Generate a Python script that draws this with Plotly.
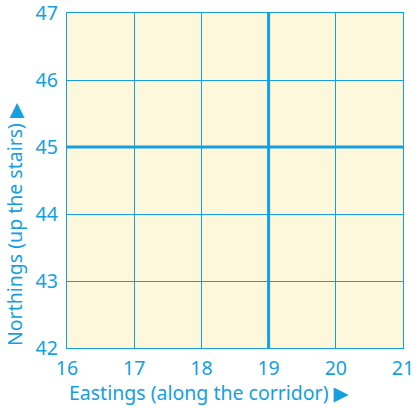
import plotly.graph_objects as go

# Data
x_ticks = [16, 17, 18, 19, 20, 21]
y_ticks = [42, 43, 44, 45, 46, 47]
origin_x = [19]
origin_y = [45]
x_title = "Eastings (along the corridor) ▶"
y_title = "Northings (up the stairs) ▶"

BLUE = "#14a0df"
BG = "#fdf8dc"
FONT = "Noto Sans, DejaVu Sans, sans-serif"

fig = go.Figure()
fig.add_trace(go.Scatter(x=[], y=[], mode="markers", showlegend=False))

axis_common = dict(
    showgrid=True, gridcolor=BLUE, gridwidth=1.2,
    showline=True, linecolor=BLUE, linewidth=1.4, mirror=True,
    zeroline=False, ticks="", tickmode="array", automargin=False,
    ticklabeloverflow="allow",
    tickfont=dict(family=FONT, size=19.5, color=BLUE),
    fixedrange=True,
)
fig.update_xaxes(range=[x_ticks[0], x_ticks[-1]], tickvals=x_ticks,
                 ticktext=[str(v) for v in x_ticks], ticklabelstandoff=2, **axis_common)
fig.update_yaxes(range=[y_ticks[0], y_ticks[-1]], tickvals=y_ticks,
                 ticktext=[str(v) for v in y_ticks], ticklabelstandoff=4, **axis_common)

for xv in origin_x:
    fig.add_shape(type="line", xref="x", yref="paper", x0=xv, x1=xv, y0=0, y1=1,
                  line=dict(color=BLUE, width=3))
for yv in origin_y:
    fig.add_shape(type="line", xref="paper", yref="y", x0=0, x1=1, y0=yv, y1=yv,
                  line=dict(color=BLUE, width=3))

fig.add_annotation(text=x_title, xref="paper", yref="paper", x=0, y=0,
                   xanchor="left", yanchor="top", yshift=-29, showarrow=False,
                   font=dict(family=FONT, size=19.5, color=BLUE))
fig.add_annotation(text=y_title, xref="paper", yref="paper", x=0, y=0,
                   textangle=-90, xanchor="right", yanchor="bottom", xshift=-37,
                   showarrow=False, font=dict(family=FONT, size=19.5, color=BLUE))

fig.update_layout(
    width=419, height=408,
    margin=dict(l=67, r=16, t=13, b=60),
    paper_bgcolor="white", plot_bgcolor=BG,
    showlegend=False,
)

fig.write_html("out.html", config={"displayModeBar": False},
               post_script="document.body.style.margin='0';document.body.style.overflow='hidden';")
